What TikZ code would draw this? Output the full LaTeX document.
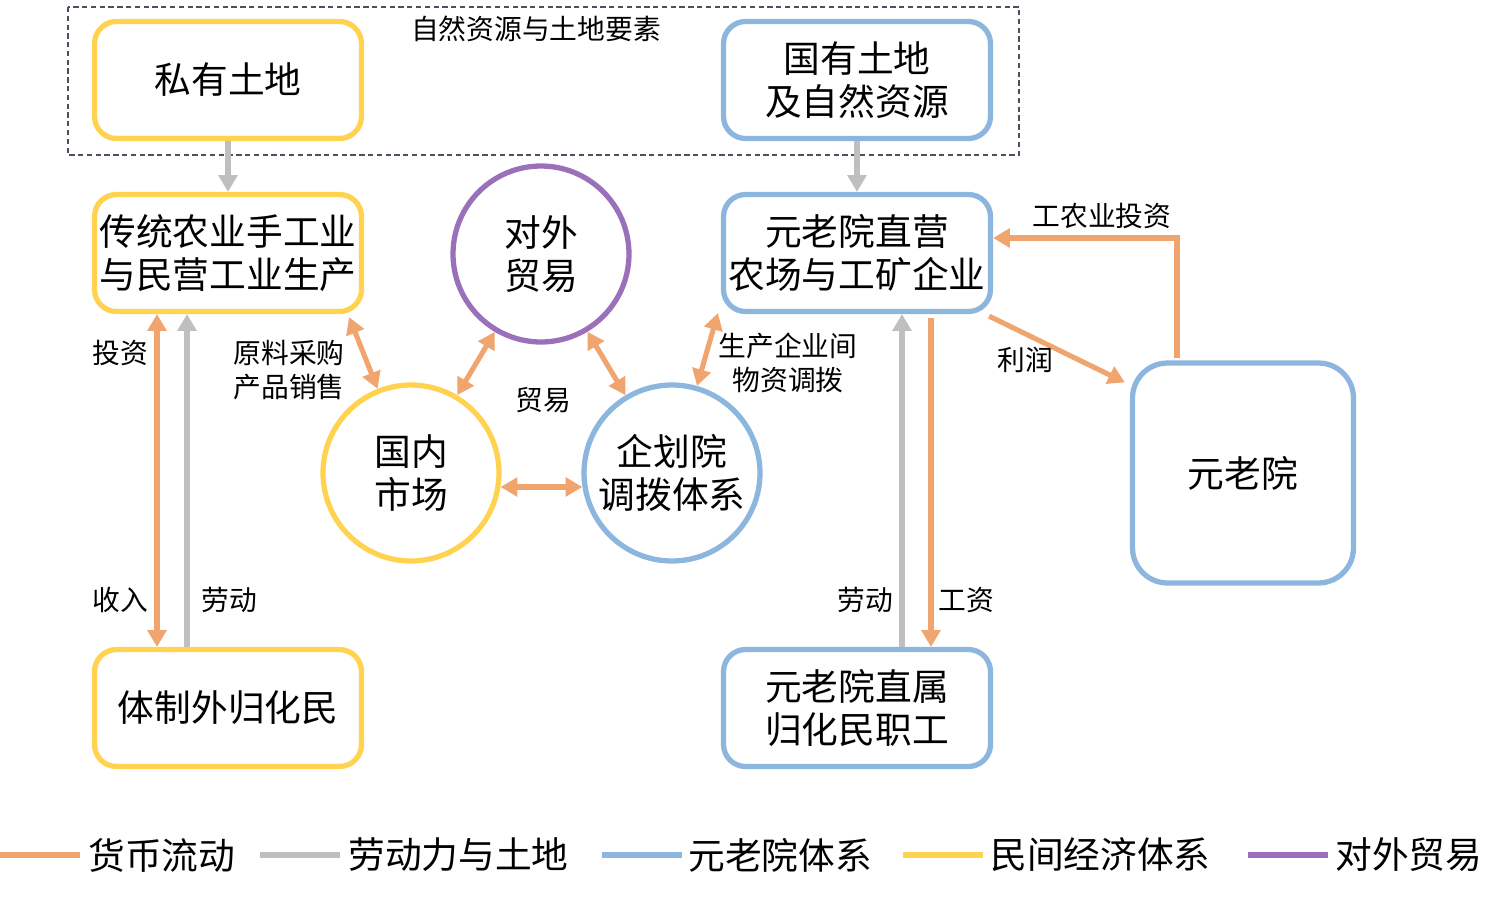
\documentclass[tikz,border=0pt]{standalone}
\usepackage{fontspec}
\setmainfont{Noto Sans CJK SC}
\usetikzlibrary{arrows.meta,calc}
\definecolor{cOrange}{HTML}{F0A46E}
\definecolor{cGray}{HTML}{BFBFBF}
\definecolor{cBlue}{HTML}{8DB6DF}
\definecolor{cYellow}{HTML}{FFD34F}
\definecolor{cPurple}{HTML}{9A70BA}
\definecolor{cDash}{HTML}{4A5060}
\newcommand{\fBig}{\fontsize{20.9}{24.4}\selectfont}
\newcommand{\fLbl}{\fontsize{15.8}{19.3}\selectfont}
\newcommand{\fLeg}{\fontsize{20.9}{24}\selectfont}
\tikzset{
  box/.style={draw, line width=3pt, rounded corners=0.44cm, minimum width=5.34cm, minimum height=2.34cm, align=center, font=\fBig, inner sep=0pt},
  yel/.style={draw=cYellow},
  blu/.style={draw=cBlue},
  circ/.style={circle, draw, line width=3pt, minimum size=3.52cm, align=center, font=\fBig, inner sep=0pt},
  lbl/.style={font=\fLbl, align=center, inner sep=0pt},
  leg/.style={font=\fLeg, anchor=west, inner sep=0pt},
  legline/.style={line width=3pt},
  flow/.style={line width=2.9pt, -{Triangle[length=9.5pt,width=10.5pt]}},
  both/.style={line width=2.9pt, {Triangle[length=9.5pt,width=10.5pt]}-{Triangle[length=9.5pt,width=10.5pt]}},
}
\begin{document}
\begin{tikzpicture}[x=0.02cm,y=-0.02cm]
\useasboundingbox (0,0) rectangle (1507,899);
% dashed frame
\draw[cDash, line width=1pt, dash pattern=on 3pt off 2pt] (68,7) rectangle (1019,155);
\node[lbl] (title) at (536,29) {自然资源与土地要素};
% boxes
\node[box,yel] (sy) at (228,80) {私有土地};
\node[box,blu] (gy) at (857,80) {国有土地\\及自然资源};
\node[box,yel] (ct) at (228,253) {传统农业手工业\\与民营工业生产};
\node[box,blu] (yzy) at (857,253) {元老院直营\\农场与工矿企业};
\node[box,yel] (tzw) at (228,708) {体制外归化民};
\node[box,blu] (yzs) at (857,708) {元老院直属\\归化民职工};
\node[draw=cBlue, line width=3pt, rounded corners=0.7cm, minimum width=4.42cm, minimum height=4.4cm, font=\fBig, inner sep=0pt] (yly) at (1243,473) {元老院};
% circles
\node[circ, draw=cPurple] (dw) at (541,254) {对外\\贸易};
\node[circ, draw=cYellow] (gn) at (411,473) {国内\\市场};
\node[circ, draw=cBlue] (qh) at (672,473) {企划院\\调拨体系};
% gray land flows
\draw[flow, cGray] (sy.south) -- (ct.north);
\draw[flow, cGray] (gy.south) -- (yzy.north);
% left column
\draw[both, cOrange] ($(ct.south)+(-71,0)$) -- ($(tzw.north)+(-71,0)$);
\draw[flow, cGray] ($(tzw.north)+(-41,0)$) -- ($(ct.south)+(-41,0)$);
\node[lbl] (tz) at (120,353) {投资};
\node[lbl] (sr) at (120,600) {收入};
\node[lbl] (ld1) at (229,600) {劳动};
% market links
\draw[both, cOrange] ($(ct.south east)+(-15,3)$) -- (gn);
\node[lbl] (ylcg) at (289,370) {原料采购\\产品销售};
\draw[both, cOrange] (gn) -- (dw);
\draw[both, cOrange] (qh) -- (dw);
\node[lbl] (my) at (543,400) {贸易};
\draw[both, cOrange] ($(gn.east)+(-1,14)$) -- ($(qh.west)+(1,14)$);
\draw[both, cOrange] (qh) -- ($(yzy.south west)+(-3,-1)$);
\node[lbl] (sc) at (788,363) {生产企业间\\物资调拨};
% right column
\draw[flow, cGray] ($(yzs.north)+(45,0)$) -- ($(yzy.south)+(45,0)$);
\draw[flow, cOrange] ($(yzy.south)+(74,4)$) -- ($(yzs.north)+(74,0)$);
\node[lbl] (ld2) at (865,600) {劳动};
\node[lbl] (gz) at (966,600) {工资};
% senate
\draw[flow, cOrange] ($(yzy.south east)+(-4,2)$) -- ($(yly.north west)+(-5,22)$);
\node[lbl] (lr) at (1025,360) {利润};
\draw[flow, cOrange] ($(yly.north)+(-66,-2)$) |- ($(yzy.east)+(0,-15)$);
\node[lbl] (gny) at (1102,216) {工农业投资};
% legend
\coordinate (l1a) at (0,855); \coordinate (l1b) at (80,855);
\coordinate (l2a) at (260,855); \coordinate (l2b) at (340,855);
\coordinate (l3a) at (602,855); \coordinate (l3b) at (682,855);
\coordinate (l4a) at (903,855); \coordinate (l4b) at (983,855);
\coordinate (l5a) at (1248,855); \coordinate (l5b) at (1328,855);
\draw[legline, cOrange] (l1a) -- (l1b);
\draw[legline, cGray] (l2a) -- (l2b);
\draw[legline, cBlue] (l3a) -- (l3b);
\draw[legline, cYellow] (l4a) -- (l4b);
\draw[legline, cPurple] (l5a) -- (l5b);
\node[leg] (t1) at (88,855) {货币流动};
\node[leg] (t2) at (348,855) {劳动力与土地};
\node[leg] (t3) at (688,855) {元老院体系};
\node[leg] (t4) at (990,855) {民间经济体系};
\node[leg] (t5) at (1335,855) {对外贸易};
\end{tikzpicture}
\end{document}
